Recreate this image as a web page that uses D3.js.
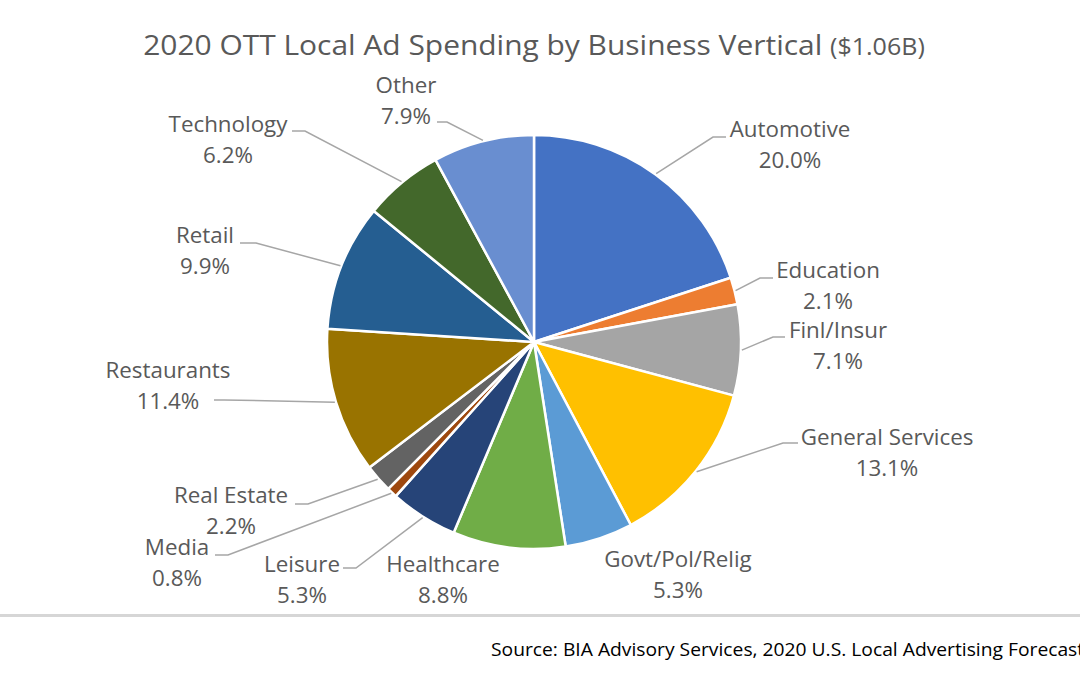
<!DOCTYPE html>
<html>
<head>
<meta charset="utf-8">
<script src="https://cdn.jsdelivr.net/npm/d3@7"></script>
<style>
  html, body { margin: 0; padding: 0; background: #fff; }
  svg { display: block; }
</style>
</head>
<body>
<figure style="margin:0"></figure>
<script>
const categories = [
  "Automotive", "Education", "Finl/Insur", "General Services", "Govt/Pol/Relig",
  "Healthcare", "Leisure", "Media", "Real Estate", "Restaurants", "Retail",
  "Technology", "Other",
];
const shares = [20.0, 2.1, 7.1, 13.1, 5.3, 8.8, 5.3, 0.8, 2.2, 11.4, 9.9, 6.2, 7.9];
const sliceColors = [
  "#4472C4", "#ED7D31", "#A5A5A5", "#FFC000", "#5B9BD5", "#70AD47", "#264478",
  "#9E480E", "#636363", "#997300", "#255E91", "#43682B", "#698ED0",
];

// label placement: text centre x, first baseline y, leader [startX, y, kneeX]
const labelLayout = [
  { x: 790, y: 137, leader: [726, 137, 713] },
  { x: 828, y: 278, leader: [773, 278, 760] },
  { x: 838, y: 338, leader: [785, 337, 773] },
  { x: 887, y: 445, leader: [798, 443, 783] },
  { x: 678, y: 567, leader: null },
  { x: 443, y: 572, leader: null },
  { x: 302, y: 572, leader: [343, 568, 356] },
  { x: 177, y: 555, leader: [215, 555, 228] },
  { x: 231, y: 503, leader: [295, 504, 308] },
  { x: 168, y: 378, leader: [214, 400, 224] },
  { x: 205, y: 243, leader: [240, 243, 256] },
  { x: 228, y: 132, leader: [292, 131, 305] },
  { x: 406, y: 93, leader: [437, 122, 447] },
];

const width = 1080;
const height = 675;
const cx = 534;
const cy = 342;
const radius = 207;
const textColor = "#595959";
const fmt = d3.format(".1f");

const svg = d3.select("figure").append("svg")
  .attr("width", width)
  .attr("height", height);

// stretch a text horizontally so it spans the wanted width
function fitWidth(sel, target) {
  const w = sel.node().getBBox().width;
  return target / w;
}

const titleG = svg.append("g");
const title = titleG.append("text")
  .attr("text-anchor", "middle")
  .attr("font-family", "Open Sans")
  .attr("fill", textColor);
title.append("tspan").attr("font-size", 27.5).text("2020 OTT Local Ad Spending by Business Vertical ");
title.append("tspan").attr("font-size", 23).text("($1.06B)");
titleG.attr("transform", `translate(534,55) scale(${fitWidth(title, 782)},1)`);

const data = categories.map((name, i) => ({
  name, value: shares[i], color: sliceColors[i], layout: labelLayout[i],
}));

const pie = d3.pie().sort(null).value((d) => d.value);
const arc = d3.arc().innerRadius(0).outerRadius(radius);
const edge = d3.arc().innerRadius(radius + 1).outerRadius(radius + 1);
const arcs = pie(data);

const g = svg.append("g").attr("transform", `translate(${cx},${cy})`);

g.selectAll("path")
  .data(arcs)
  .join("path")
  .attr("d", arc)
  .attr("fill", (d) => d.data.color)
  .attr("stroke", "#fff")
  .attr("stroke-width", 2.5)
  .attr("stroke-linejoin", "round");

// leader lines
svg.append("g")
  .selectAll("polyline")
  .data(arcs.filter((d) => d.data.layout.leader))
  .join("polyline")
  .attr("fill", "none")
  .attr("stroke", "#a6a6a6")
  .attr("stroke-width", 1.5)
  .attr("points", (d) => {
    const [sx, sy, kx] = d.data.layout.leader;
    const [ex, ey] = edge.centroid(d);
    return `${sx},${sy} ${kx},${sy} ${cx + ex},${cy + ey}`;
  });

const labels = svg.append("g")
  .attr("font-family", "Open Sans")
  .attr("font-size", 21.5)
  .attr("fill", textColor)
  .attr("text-anchor", "middle");

labels.selectAll("g")
  .data(data)
  .join("g")
  .attr("transform", (d) => `translate(${d.layout.x},${d.layout.y}) scale(1.04,1)`)
  .each(function (d) {
    const t = d3.select(this).append("text");
    t.append("tspan").attr("x", 0).text(d.name);
    t.append("tspan").attr("x", 0).attr("dy", 31).text(`${fmt(d.value)}%`);
  });

svg.append("line")
  .attr("x1", 0)
  .attr("x2", width)
  .attr("y1", 615.5)
  .attr("y2", 615.5)
  .attr("stroke", "#d6d6d6")
  .attr("stroke-width", 3);

const sourceG = svg.append("g");
const source = sourceG.append("text")
  .attr("font-family", "Open Sans")
  .attr("font-size", 18.5)
  .attr("fill", "#000")
  .text("Source: BIA Advisory Services, 2020 U.S. Local Advertising Forecast");
sourceG.attr("transform", `translate(491,656) scale(${fitWidth(source, 594)},1)`);
</script>
</body>
</html>
